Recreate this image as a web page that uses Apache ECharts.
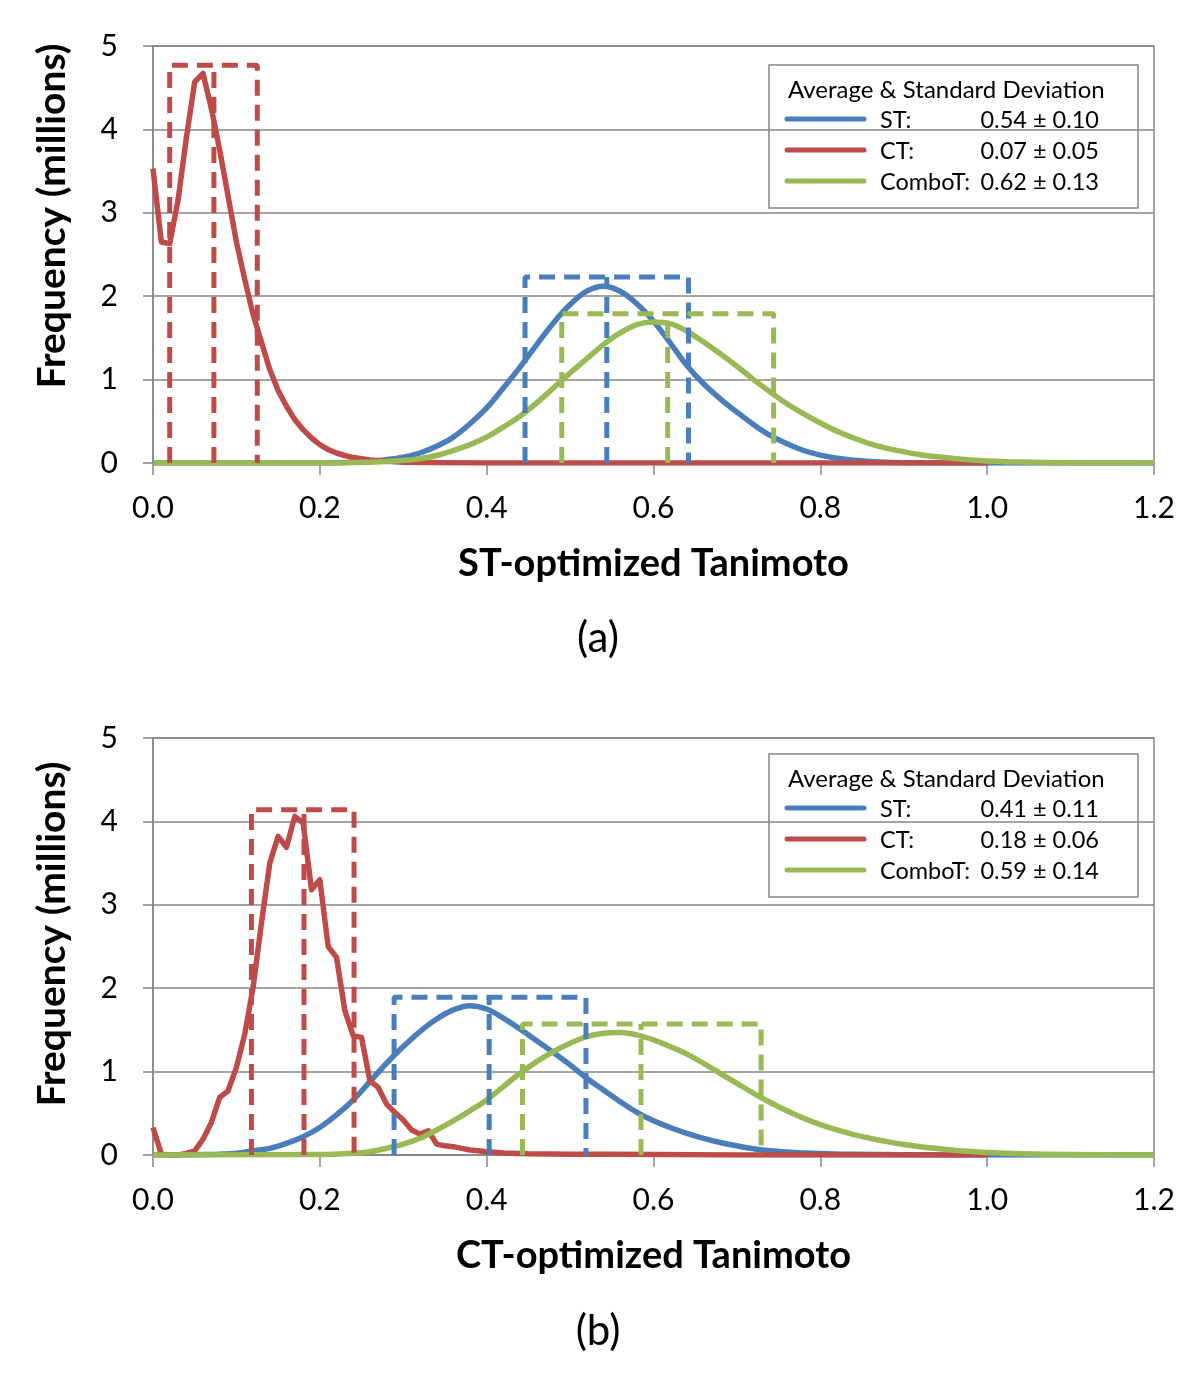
<!DOCTYPE html>
<html>
<head>
<meta charset="utf-8">
<script src="https://cdn.jsdelivr.net/npm/echarts@6/dist/echarts.min.js"></script>
<style>
html,body{margin:0;padding:0;background:#fff;}
#main{width:1200px;height:1385px;}
</style>
</head>
<body>
<div id="main"></div>
<script>
// ---------- Data ----------
const seriesNames = ['ST', 'CT', 'ComboT'];
const xTicks = [0, 0.2, 0.4, 0.6, 0.8, 1.0, 1.2];
const yTicks = [0, 1, 2, 3, 4, 5];
const xAxisNames = ['ST-optimized Tanimoto', 'CT-optimized Tanimoto'];
const panelLabels = ['(a)', '(b)'];
const statsA = ['0.54 ± 0.10', '0.07 ± 0.05', '0.62 ± 0.13'];
const statsB = ['0.41 ± 0.11', '0.18 ± 0.06', '0.59 ± 0.14'];

// Panel (a): ST-optimized
const stA = [[0,0],[0.20,0],[0.24,0.01],[0.26,0.02],[0.28,0.04],[0.30,0.07],[0.32,0.12],[0.34,0.2],[0.36,0.31],[0.38,0.47],[0.40,0.66],[0.42,0.9],[0.44,1.15],[0.46,1.42],[0.48,1.68],[0.50,1.9],[0.52,2.06],[0.54,2.12],[0.56,2.06],[0.58,1.91],[0.60,1.7],[0.62,1.44],[0.64,1.17],[0.66,0.95],[0.68,0.77],[0.70,0.61],[0.72,0.46],[0.74,0.33],[0.76,0.23],[0.78,0.15],[0.80,0.095],[0.82,0.058],[0.84,0.033],[0.86,0.018],[0.88,0.009],[0.90,0.004],[1.0,0],[1.2,0]];
const ctA = [[0,3.53],[0.01,2.65],[0.02,2.63],[0.03,3.15],[0.04,3.9],[0.05,4.57],[0.06,4.67],[0.07,4.25],[0.08,3.75],[0.09,3.2],[0.10,2.65],[0.11,2.2],[0.12,1.78],[0.13,1.45],[0.14,1.12],[0.15,0.87],[0.16,0.68],[0.17,0.52],[0.18,0.40],[0.19,0.30],[0.20,0.22],[0.21,0.16],[0.22,0.12],[0.23,0.09],[0.24,0.065],[0.25,0.05],[0.26,0.035],[0.28,0.02],[0.30,0.01],[0.35,0.004],[0.40,0],[1.0,0]];
const comboA = [[0,0],[0.20,0],[0.26,0.01],[0.30,0.03],[0.32,0.05],[0.34,0.09],[0.36,0.15],[0.38,0.22],[0.40,0.31],[0.42,0.43],[0.44,0.56],[0.46,0.72],[0.48,0.9],[0.50,1.08],[0.52,1.25],[0.54,1.42],[0.56,1.56],[0.58,1.66],[0.60,1.69],[0.62,1.67],[0.64,1.58],[0.66,1.45],[0.68,1.31],[0.70,1.16],[0.72,1.0],[0.74,0.85],[0.76,0.71],[0.78,0.59],[0.80,0.48],[0.82,0.38],[0.84,0.3],[0.86,0.23],[0.88,0.175],[0.90,0.135],[0.92,0.1],[0.94,0.075],[0.96,0.055],[0.98,0.037],[1.00,0.025],[1.04,0.012],[1.10,0.004],[1.2,0]];
// dashed boxes: [mean - sd, mean, mean + sd, height]
const boxA_ST = [0.446, 0.544, 0.642, 2.23];
const boxA_CT = [0.020, 0.073, 0.125, 4.77];
const boxA_Combo = [0.490, 0.617, 0.744, 1.79];

// Panel (b): CT-optimized
const stB = [[0,0],[0.04,0],[0.06,0.005],[0.08,0.01],[0.10,0.02],[0.12,0.05],[0.14,0.08],[0.16,0.14],[0.18,0.22],[0.20,0.33],[0.22,0.48],[0.24,0.66],[0.26,0.88],[0.28,1.1],[0.30,1.3],[0.32,1.48],[0.34,1.63],[0.36,1.74],[0.38,1.79],[0.40,1.75],[0.42,1.64],[0.44,1.51],[0.46,1.37],[0.48,1.23],[0.50,1.08],[0.52,0.92],[0.54,0.78],[0.56,0.64],[0.58,0.51],[0.60,0.41],[0.62,0.33],[0.64,0.26],[0.66,0.2],[0.68,0.15],[0.70,0.11],[0.72,0.075],[0.74,0.05],[0.76,0.035],[0.78,0.025],[0.80,0.018],[0.84,0.008],[0.90,0.003],[1.0,0],[1.2,0]];
const ctB = [[0,0.33],[0.01,0.01],[0.02,0],[0.03,0],[0.04,0.02],[0.05,0.05],[0.06,0.19],[0.07,0.39],[0.08,0.69],[0.09,0.77],[0.10,1.05],[0.11,1.45],[0.12,2.01],[0.13,2.78],[0.14,3.5],[0.15,3.82],[0.16,3.69],[0.17,4.06],[0.18,3.98],[0.19,3.18],[0.20,3.3],[0.21,2.5],[0.22,2.37],[0.23,1.73],[0.24,1.43],[0.25,1.41],[0.26,0.89],[0.27,0.81],[0.28,0.61],[0.29,0.51],[0.30,0.42],[0.31,0.3],[0.32,0.25],[0.33,0.29],[0.34,0.13],[0.35,0.11],[0.36,0.1],[0.37,0.08],[0.38,0.06],[0.39,0.05],[0.40,0.04],[0.42,0.025],[0.45,0.015],[0.50,0.01],[0.55,0.01],[0.60,0.005],[0.70,0],[1.0,0]];
const comboB = [[0,0],[0.20,0.005],[0.24,0.02],[0.26,0.04],[0.28,0.08],[0.30,0.13],[0.32,0.2],[0.34,0.3],[0.36,0.41],[0.38,0.53],[0.40,0.66],[0.42,0.82],[0.44,0.98],[0.46,1.12],[0.48,1.24],[0.50,1.34],[0.52,1.42],[0.54,1.46],[0.56,1.47],[0.58,1.44],[0.60,1.38],[0.62,1.3],[0.64,1.21],[0.66,1.1],[0.68,0.98],[0.70,0.86],[0.72,0.74],[0.74,0.63],[0.76,0.53],[0.78,0.44],[0.80,0.365],[0.82,0.3],[0.84,0.245],[0.86,0.2],[0.88,0.16],[0.90,0.127],[0.92,0.1],[0.94,0.077],[0.96,0.057],[0.98,0.041],[1.00,0.03],[1.04,0.015],[1.10,0.005],[1.2,0]];
const boxB_ST = [0.289, 0.403, 0.519, 1.89];
const boxB_CT = [0.118, 0.181, 0.241, 4.14];
const boxB_Combo = [0.443, 0.585, 0.729, 1.57];

// ---------- Styling ----------
const colors = ['#4A7EBB', '#BE4B48', '#98B954'];
const gray = '#868686';
const FONT = 'Lato, "Open Sans", sans-serif';

const chart = echarts.init(document.getElementById('main'), null, {renderer: 'canvas'});

function xAxisCfg(gi) {
  return {
    type: 'value', gridIndex: gi, min: 0, max: 1.2, interval: 0.2,
    axisLine: {show: true, lineStyle: {color: gray, width: 1.5}},
    axisTick: {show: true, length: 12, lineStyle: {color: gray, width: 1.5}},
    axisLabel: {fontSize: 30, color: '#000', fontFamily: FONT, margin: 30,
      formatter: v => v.toFixed(1)},
    splitLine: {show: false},
    name: xAxisNames[gi], nameLocation: 'middle', nameGap: 82,
    nameTextStyle: {fontSize: 38, fontWeight: 'bold', color: '#000', fontFamily: FONT}
  };
}
function yAxisCfg(gi) {
  return {
    type: 'value', gridIndex: gi, min: 0, max: 5, interval: 1,
    axisLine: {show: true, lineStyle: {color: gray, width: 1.5}},
    axisTick: {show: true, length: 10, lineStyle: {color: gray, width: 1.5}},
    axisLabel: {fontSize: 30, color: '#000', fontFamily: FONT, margin: 35},
    splitLine: {show: true, lineStyle: {color: gray, width: 1.5}}
  };
}

function curve(name, data, color, gi) {
  return {
    name: name, type: 'line', xAxisIndex: gi, yAxisIndex: gi, data: data,
    showSymbol: false, smooth: name === 'CT' ? false : 0.35,
    lineStyle: {color: color, width: 5.5, join: 'round'}, itemStyle: {color: color},
    animation: false, z: 3
  };
}
function box(b, color, gi) {
  const st = {color: color, width: 5, type: [16, 9]};
  return [
    {type: 'line', xAxisIndex: gi, yAxisIndex: gi, showSymbol: false, animation: false, z: 4,
      data: [[b[0], 0], [b[0], b[3]], [b[2], b[3]], [b[2], 0]], lineStyle: st},
    {type: 'line', xAxisIndex: gi, yAxisIndex: gi, showSymbol: false, animation: false, z: 4,
      data: [[b[1], 0], [b[1], b[3]]], lineStyle: st}
  ];
}

function legendGroup(top, stats) {
  const left = 769, w = 369, h = 143;
  const children = [
    {type: 'rect', shape: {x: left, y: top, width: w, height: h},
      style: {fill: '#fff', stroke: gray, lineWidth: 1.5}},
    {type: 'text', x: 788, y: top + 25, style: {text: 'Average & Standard Deviation',
      fontSize: 24, fontFamily: FONT, fill: '#000', align: 'left', verticalAlign: 'middle'}}
  ];
  const offs = [55, 86, 117];
  for (let i = 0; i < 3; i++) {
    const yy = top + offs[i];
    children.push({type: 'line', shape: {x1: 787, y1: yy - 1, x2: 864, y2: yy - 1},
      style: {stroke: colors[i], lineWidth: 5, lineCap: 'round'}});
    children.push({type: 'text', x: 880, y: yy, style: {text: seriesNames[i] + ':',
      fontSize: 23.5, fontFamily: FONT, fill: '#000', align: 'left', verticalAlign: 'middle'}});
    children.push({type: 'text', x: 1099, y: yy, style: {text: stats[i],
      fontSize: 23.5, fontFamily: FONT, fill: '#000', align: 'right', verticalAlign: 'middle'}});
  }
  return {type: 'group', children: children, z: 100};
}

const grids = [
  {left: 153, right: 46, top: 46, height: 417, show: true, borderColor: gray, borderWidth: 1.5, backgroundColor: 'transparent'},
  {left: 153, right: 46, top: 738, height: 417, show: true, borderColor: gray, borderWidth: 1.5, backgroundColor: 'transparent'}
];

const series = [
  curve('ST', stA, colors[0], 0), curve('CT', ctA, colors[1], 0), curve('ComboT', comboA, colors[2], 0),
  ...box(boxA_ST, colors[0], 0), ...box(boxA_CT, colors[1], 0), ...box(boxA_Combo, colors[2], 0),
  curve('ST', stB, colors[0], 1), curve('CT', ctB, colors[1], 1), curve('ComboT', comboB, colors[2], 1),
  ...box(boxB_ST, colors[0], 1), ...box(boxB_CT, colors[1], 1), ...box(boxB_Combo, colors[2], 1)
];

const graphic = [
  legendGroup(65, statsA),
  legendGroup(754, statsB),
  {type: 'text', x: 52, y: 216, rotation: Math.PI / 2, style: {text: 'Frequency (millions)',
    fontSize: 39, fontWeight: 'bold', fontFamily: FONT, fill: '#000', align: 'center', verticalAlign: 'middle'}},
  {type: 'text', x: 52, y: 934, rotation: Math.PI / 2, style: {text: 'Frequency (millions)',
    fontSize: 39, fontWeight: 'bold', fontFamily: FONT, fill: '#000', align: 'center', verticalAlign: 'middle'}},
  {type: 'text', x: 598, y: 638, style: {text: panelLabels[0], fontSize: 42, fontFamily: FONT,
    fill: '#000', align: 'center', verticalAlign: 'middle'}},
  {type: 'text', x: 598, y: 1331, style: {text: panelLabels[1], fontSize: 42, fontFamily: FONT,
    fill: '#000', align: 'center', verticalAlign: 'middle'}}
];

chart.setOption({
  backgroundColor: '#fff',
  animation: false,
  grid: grids,
  xAxis: [xAxisCfg(0), xAxisCfg(1)],
  yAxis: [yAxisCfg(0), yAxisCfg(1)],
  series: series,
  graphic: graphic
});
</script>
</body>
</html>
